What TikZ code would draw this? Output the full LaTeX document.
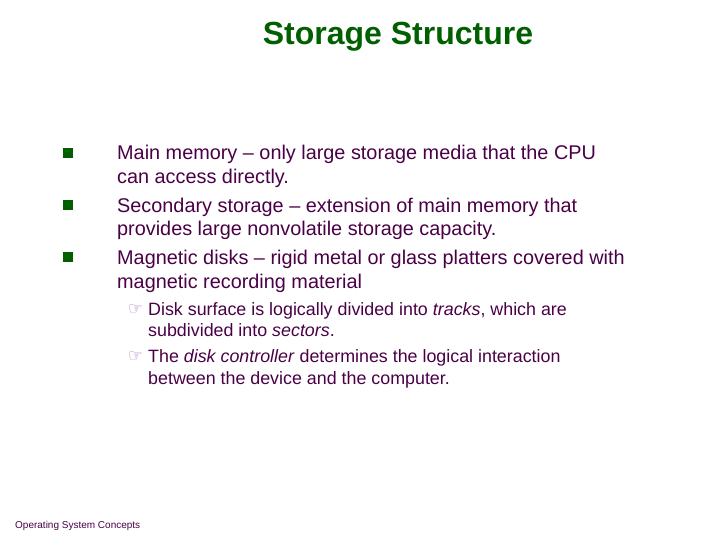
\documentclass[tikz,border=0pt]{standalone}
\usepackage{fontspec}
\setmainfont{Liberation Sans}
\newfontfamily\dejavu{DejaVu Sans}
\definecolor{txt}{HTML}{4A0046}
\definecolor{ttl}{HTML}{006000}
\definecolor{hand}{HTML}{B070C0}
\begin{document}
\begin{tikzpicture}[x=1pt,y=-1pt,
  ln/.style={anchor=base west,inner sep=0pt,text=txt,font=\fontsize{19.85}{22}\selectfont},
  sl/.style={anchor=base west,inner sep=0pt,text=txt,font=\fontsize{17.85}{20}\selectfont},
  sq/.style={fill=ttl,draw=none,minimum size=9.5pt,inner sep=0pt},
  hd/.style={anchor=base west,inner sep=0pt,text=hand,font=\dejavu\fontsize{16.5}{18}\selectfont}]
\useasboundingbox (0,0) rectangle (720,540);
\node[anchor=base,inner sep=0pt,text=ttl,font=\bfseries\fontsize{32}{34}\selectfont] (title) at (398,45) {Storage Structure};
\node[sq] (b1) at (68,153) {};
\node[sq] (b2) at (68,205) {};
\node[sq] (b3) at (68,257) {};
\node[ln] (l1) at (117,160) {Main memory -- only large storage media that the CPU};
\node[ln] (l2) at (117,184) {can access directly.};
\node[ln] (l3) at (117,212) {Secondary storage -- extension of main memory that};
\node[ln] (l4) at (117,236) {provides large nonvolatile storage capacity.};
\node[ln] (l5) at (117,264) {Magnetic disks -- rigid metal or glass platters covered with};
\node[ln] (l6) at (117,288) {magnetic recording material};
\node[hd] (h1) at (128,314) {☞};
\node[hd] (h2) at (128,361) {☞};
\node[sl] (s1) at (148,315) {Disk surface is logically divided into \textit{tracks}, which are};
\node[sl] (s2) at (148,336) {subdivided into \textit{sectors}.};
\node[sl] (s3) at (148,362) {The \textit{disk controller} determines the logical interaction};
\node[sl] (s4) at (148,384) {between the device and the computer.};
\node[anchor=base west,inner sep=0pt,text=txt,font=\fontsize{10}{11}\selectfont] (ft) at (15,528) {Operating System Concepts};
\end{tikzpicture}
\end{document}
